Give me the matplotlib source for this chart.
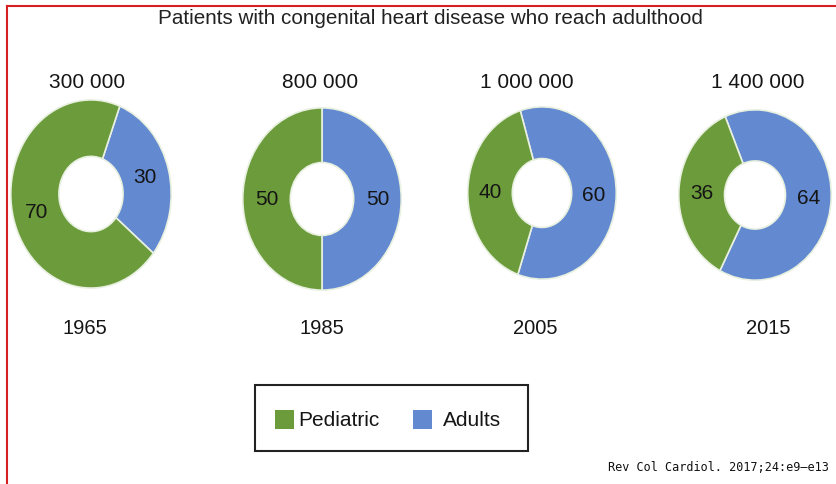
import matplotlib
matplotlib.use('Agg')
import matplotlib.pyplot as plt
from matplotlib.patches import Rectangle
from matplotlib.lines import Line2D

plt.rcParams['font.family'] = ['Liberation Sans', 'DejaVu Sans']

# data
years = ['1965', '1985', '2005', '2015']
totals = ['300 000', '800 000', '1 000 000', '1 400 000']
pediatric = [70, 50, 40, 36]
adults = [30, 50, 60, 64]
series_names = ['Pediatric', 'Adults']

green = '#6b9b3a'
blue = '#6389d0'

W, H = 837, 485
fig = plt.figure(figsize=(W / 100, H / 100), dpi=100)

def fx(px):
    return px / W

def fy(py):
    return 1 - py / H

# donut boxes in pixels: center x, center y, half width, half height
centers = [(91, 195), (322, 200), (542, 194), (755, 196)]
half = [(81, 95), (80, 92), (75, 87), (77, 86)]
# where the adult wedge begins, degrees clockwise from 12 o'clock
starts = [21, 0, -17, -23]

for i in range(4):
    cx, cy = centers[i]
    hw, hh = half[i]
    ax = fig.add_axes([fx(cx - hw), fy(cy + hh), 2 * hw / W, 2 * hh / H])
    ax.pie([adults[i], pediatric[i]], colors=[blue, green],
           startangle=90 - starts[i], counterclock=False, radius=1,
           wedgeprops=dict(width=0.6, edgecolor='#e8f0e0', linewidth=1.2),
           autopct=lambda p: f'{p:.0f}', pctdistance=0.7,
           textprops=dict(fontsize=15, color='#151515'))
    ax.set_aspect('auto')
    ax.set_xlim(-1.01, 1.01)
    ax.set_ylim(-1.01, 1.01)
    ax.axis('off')

# labels above and below each donut
top_x = [87, 320, 527, 758]
bottom_x = [85, 322, 535, 768]
for i in range(4):
    fig.text(fx(top_x[i]), fy(83), totals[i], ha='center', va='center',
             fontsize=15, color='#151515')
    fig.text(fx(bottom_x[i]), fy(329), years[i], ha='center', va='center',
             fontsize=14.5, color='#151515')

fig.text(fx(430), fy(18), 'Patients with congenital heart disease who reach adulthood',
         ha='center', va='center', fontsize=14.9, color='#222222')

# legend box drawn by hand to get the uneven spacing of the original
fig.add_artist(Rectangle((fx(255), fy(452)), (528 - 255) / W, (452 - 386) / H,
                         facecolor='white', edgecolor='#222222', lw=1.5))
swatch_x = [275, 413]
text_x = [298, 443]
for col, sx, tx, name in zip([green, blue], swatch_x, text_x, series_names):
    fig.add_artist(Rectangle((fx(sx), fy(430)), 19 / W, 19 / H,
                             facecolor=col, edgecolor='none'))
    fig.text(fx(tx), fy(421), name, ha='left', va='center', fontsize=15,
             color='#151515')

fig.text(fx(829), fy(468), 'Rev Col Cardiol. 2017;24:e9\u2013e13', ha='right', va='center',
         fontsize=8.5, family='DejaVu Sans Mono', color='#111111')

# red frame (top and left edges visible)
fig.add_artist(Line2D([fx(7), 1], [fy(7), fy(7)], color='#d42020', lw=1.5))
fig.add_artist(Line2D([fx(7), fx(7)], [fy(7), 0], color='#d42020', lw=1.5))

fig.savefig('out.png', dpi=100)
